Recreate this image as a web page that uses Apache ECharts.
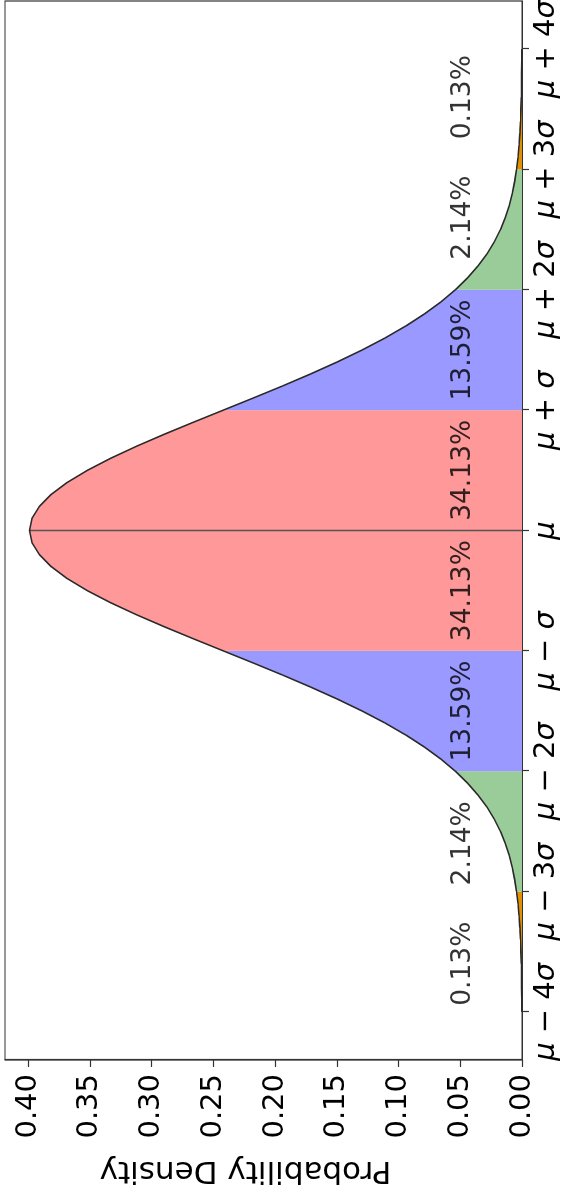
<!DOCTYPE html>
<html>
<head>
<meta charset="utf-8">
<script src="https://cdn.jsdelivr.net/npm/echarts@6/dist/echarts.min.js"></script>
<style>
html,body{margin:0;padding:0;background:#fff;overflow:hidden;width:566px;height:1198px;}
#chart{position:absolute;left:0;top:0;width:1198px;height:566px;transform-origin:0 0;transform:translate(0px,1198px) rotate(-90deg);}
</style>
</head>
<body>
<div id="chart"></div>
<script>
// x positions in units of sigma from the mean
const xs = [-4.0,-3.9,-3.8,-3.7,-3.6,-3.5,-3.4,-3.3,-3.2,-3.1,-3.0,-2.9,-2.8,-2.7,-2.6,-2.5,-2.4,-2.3,-2.2,-2.1,
  -2.0,-1.9,-1.8,-1.7,-1.6,-1.5,-1.4,-1.3,-1.2,-1.1,-1.0,-0.9,-0.8,-0.7,-0.6,-0.5,-0.4,-0.3,-0.2,-0.1,
  0.0,0.1,0.2,0.3,0.4,0.5,0.6,0.7,0.8,0.9,1.0,1.1,1.2,1.3,1.4,1.5,1.6,1.7,1.8,1.9,
  2.0,2.1,2.2,2.3,2.4,2.5,2.6,2.7,2.8,2.9,3.0,3.1,3.2,3.3,3.4,3.5,3.6,3.7,3.8,3.9,4.0];
// probability density read at each x
const density = [0.0001,0.0002,0.0003,0.0004,0.0006,0.0009,0.0012,0.0017,0.0024,0.0033,
  0.0044,0.0060,0.0079,0.0104,0.0136,0.0175,0.0224,0.0283,0.0355,0.0440,
  0.0540,0.0656,0.0790,0.0940,0.1109,0.1295,0.1497,0.1714,0.1942,0.2179,
  0.2420,0.2661,0.2897,0.3123,0.3332,0.3521,0.3683,0.3814,0.3910,0.3970,
  0.3989,
  0.3970,0.3910,0.3814,0.3683,0.3521,0.3332,0.3123,0.2897,0.2661,0.2420,
  0.2179,0.1942,0.1714,0.1497,0.1295,0.1109,0.0940,0.0790,0.0656,0.0540,
  0.0440,0.0355,0.0283,0.0224,0.0175,0.0136,0.0104,0.0079,0.0060,0.0044,
  0.0033,0.0024,0.0017,0.0012,0.0009,0.0006,0.0004,0.0003,0.0002,0.0001];
// shaded bands: [from, to]
const bandFrom = [-4, -3, -2, -1, 1, 2, 3];
const bandTo   = [-3, -2, -1,  1, 2, 3, 4];
const bandColors = ['#e09000', '#99cc99', '#9999ff', '#ff9999', '#9999ff', '#99cc99', '#e09000'];
// percentage annotations
const pctLabels = ['0.13%', '2.14%', '13.59%', '34.13%', '34.13%', '13.59%', '2.14%', '0.13%'];
const pctX = [-3.6, -2.6, -1.5, -0.5, 0.5, 1.5, 2.6, 3.6];
const pctY = [0.048, 0.048, 0.048, 0.048, 0.048, 0.048, 0.048, 0.048];
// axis ticks
const xTickValues = [-4, -3, -2, -1, 0, 1, 2, 3, 4];
const xTickLabels = ['μ − 4σ', 'μ − 3σ', 'μ − 2σ', 'μ − σ', 'μ', 'μ + σ', 'μ + 2σ', 'μ + 3σ', 'μ + 4σ'];
const yTickValues = [0, 0.05, 0.10, 0.15, 0.20, 0.25, 0.30, 0.35, 0.40];
const yTickLabels = ['0.00', '0.05', '0.10', '0.15', '0.20', '0.25', '0.30', '0.35', '0.40'];
// mean line
const meanX = [0, 0];
const meanY = [0, 0.3989];

const FONT = 'DejaVu Sans';
const curve = xs.map((x, i) => [x, density[i]]);

const series = [];
bandFrom.forEach((a, k) => {
  const b = bandTo[k];
  const pts = curve.filter(p => p[0] >= a - 1e-9 && p[0] <= b + 1e-9);
  series.push({
    type: 'line', data: pts, symbol: 'none', silent: true, z: 2,
    lineStyle: { width: 0, opacity: 0 },
    areaStyle: { color: bandColors[k], opacity: 1 }
  });
});
series.push({
  type: 'line', data: [[meanX[0], meanY[0]], [meanX[1], meanY[1]]], symbol: 'none', z: 3,
  lineStyle: { color: '#555', width: 1.5 }
});
series.push({
  type: 'line', data: curve, symbol: 'none', z: 4,
  lineStyle: { color: '#2a2a2a', width: 1.6 }
});
series.push({
  type: 'scatter', symbolSize: 0, z: 5,
  data: pctX.map((x, i) => ({ value: [x, pctY[i]], name: pctLabels[i] })),
  label: {
    show: true, position: 'inside', formatter: p => p.name,
    fontFamily: FONT, fontSize: 26.5, color: '#000'
  }
});

function richMath(s) {
  return s.replace(/μ/g, '{i|μ}').replace(/σ/g, '{i|σ}').replace(/([^{}|μσ]+)(?=\{|$)/g, '{n|$1}');
}

const chart = echarts.init(document.getElementById('chart'), null, { renderer: 'canvas' });
chart.setOption({
  animation: false,
  backgroundColor: '#fff',
  grid: { left: 138, right: 1, top: 5, bottom: 44, show: true, borderColor: '#333', borderWidth: 1.2, backgroundColor: 'transparent', containLabel: false, outerBoundsMode: 'none' },
  xAxis: {
    type: 'value', min: -4.4, max: 4.4,
    axisLine: { show: true, onZero: false, lineStyle: { color: '#333', width: 1.2 } },
    axisTick: { show: true, inside: false, length: 7, lineStyle: { color: '#333', width: 1.2 }, customValues: xTickValues },
    splitLine: { show: false },
    axisLabel: {
      customValues: xTickValues, margin: 10, color: '#000',
      fontFamily: FONT, fontSize: 29,
      formatter: v => {
        const i = xTickValues.findIndex(t => Math.abs(t - v) < 1e-9);
        return i < 0 ? '' : richMath(xTickLabels[i]);
      },
      rich: {
        i: { fontFamily: FONT, fontSize: 29, fontStyle: 'italic', color: '#000' },
        n: { fontFamily: FONT, fontSize: 29, color: '#000' }
      }
    }
  },
  yAxis: {
    type: 'value', min: 0, max: 0.4188,
    name: 'Probability Density', nameLocation: 'middle', nameRotate: 90, nameGap: 95,
    nameTextStyle: { fontFamily: FONT, fontSize: 31, color: '#000', padding: [0, 0, 0, 36] },
    axisLine: { show: true, onZero: false, lineStyle: { color: '#333', width: 1.2 } },
    axisTick: { show: true, inside: false, length: 7, lineStyle: { color: '#333', width: 1.2 }, customValues: yTickValues },
    splitLine: { show: false },
    axisLabel: {
      customValues: yTickValues, margin: 14, color: '#000',
      fontFamily: FONT, fontSize: 29,
      formatter: v => {
        const i = yTickValues.findIndex(t => Math.abs(t - v) < 1e-9);
        return i < 0 ? '' : yTickLabels[i];
      }
    }
  },
  series: series
});
</script>
</body>
</html>
